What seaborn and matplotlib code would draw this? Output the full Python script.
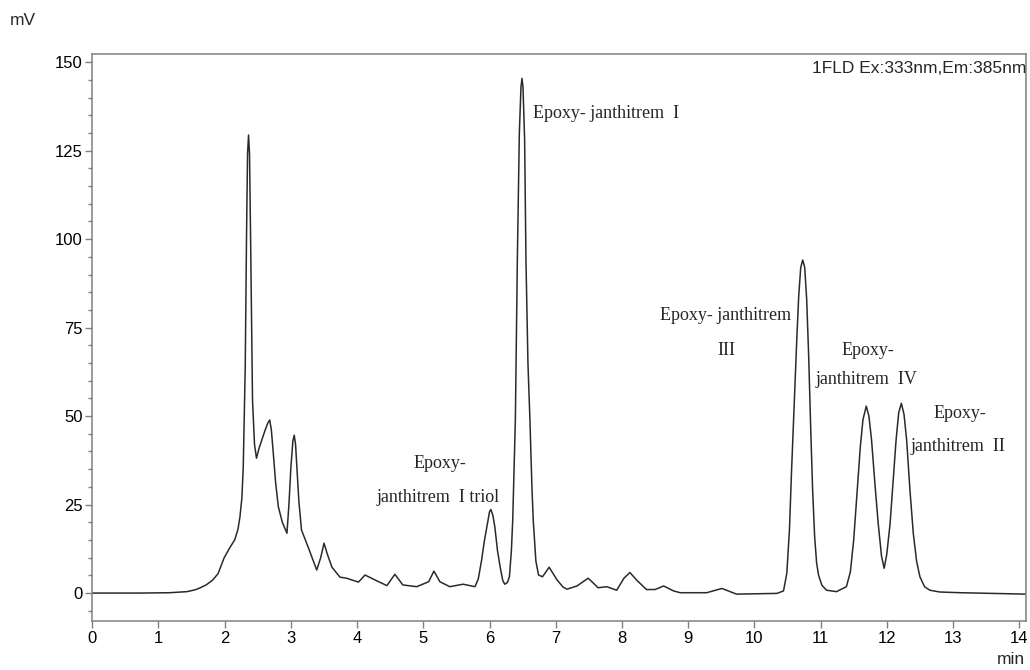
# 色谱图：Epoxy-janthitrem 各组分的荧光检测 (FLD) 谱图

import numpy as np
import pandas as pd
import seaborn as sns
from matplotlib import pyplot as plt
from matplotlib.ticker import MultipleLocator

# 保留时间 (min) 与信号 (mV)，从原图逐点读取
retention_time = [
    0.00, 0.72, 1.17, 1.43, 1.55, 1.62, 1.72, 1.82, 1.90, 1.99, 2.07, 2.15,
    2.20, 2.23, 2.26, 2.28, 2.31, 2.33, 2.345, 2.36, 2.375, 2.39, 2.42, 2.45,
    2.48, 2.52, 2.56, 2.61, 2.65, 2.68, 2.705, 2.73, 2.77, 2.81, 2.87, 2.94,
    2.97, 3.00, 3.03, 3.05, 3.07, 3.09, 3.12, 3.16, 3.26, 3.33, 3.39, 3.45,
    3.50, 3.55, 3.62, 3.74, 3.84, 4.02, 4.12, 4.27, 4.45, 4.57, 4.69, 4.90,
    5.08, 5.16, 5.25, 5.40, 5.60, 5.78, 5.83, 5.88, 5.92, 5.96, 6.00, 6.02,
    6.05, 6.08, 6.12, 6.16, 6.20, 6.23, 6.27, 6.30, 6.33, 6.35, 6.39, 6.42,
    6.45, 6.475, 6.49, 6.505, 6.53, 6.55, 6.58, 6.61, 6.64, 6.66, 6.70, 6.74,
    6.80, 6.90, 7.02, 7.11, 7.17, 7.32, 7.49, 7.64, 7.77, 7.92, 8.03, 8.12,
    8.22, 8.37, 8.50, 8.63, 8.78, 8.88, 9.28, 9.51, 9.73, 10.34, 10.44, 10.49,
    10.53, 10.56, 10.60, 10.64, 10.67, 10.70, 10.73, 10.76, 10.79, 10.82, 10.85, 10.88,
    10.91, 10.94, 10.97, 11.02, 11.09, 11.24, 11.39, 11.45, 11.50, 11.55, 11.60, 11.64,
    11.69, 11.73, 11.77, 11.82, 11.87, 11.92, 11.96, 12.00, 12.05, 12.10, 12.14, 12.18,
    12.22, 12.26, 12.30, 12.35, 12.40, 12.45, 12.50, 12.57, 12.65, 12.80, 13.11, 14.10,
]
signal_mv = [
    0.0, 0.0, 0.1, 0.4, 0.9, 1.4, 2.3, 3.7, 5.5, 9.9, 12.6, 15.0,
    18.0, 21.5, 27.0, 35.6, 63.8, 101.7, 124.0, 129.4, 124.0, 101.7, 54.5, 42.0,
    38.1, 41.0, 43.2, 46.0, 48.0, 48.9, 46.0, 40.4, 31.0, 24.4, 20.0, 16.9,
    25.0, 35.6, 43.0, 44.6, 42.0, 35.6, 26.0, 17.8, 13.0, 9.5, 6.5, 10.0,
    14.1, 11.0, 7.3, 4.5, 4.2, 3.1, 5.1, 3.7, 2.1, 5.3, 2.3, 1.8,
    3.2, 6.2, 3.2, 1.8, 2.5, 1.8, 4.0, 9.3, 14.5, 18.7, 23.0, 23.6,
    22.0, 18.7, 12.0, 7.4, 3.5, 2.5, 3.0, 4.6, 12.0, 20.6, 48.9, 94.1,
    130.0, 143.0, 145.4, 143.0, 128.0, 94.1, 65.0, 48.9, 30.0, 20.6, 9.0, 5.1,
    4.6, 7.3, 3.7, 1.7, 1.1, 2.0, 4.2, 1.5, 1.8, 0.8, 4.2, 5.8,
    3.7, 1.0, 1.0, 2.0, 0.6, 0.1, 0.1, 1.3, -0.3, -0.1, 0.6, 5.6,
    18.0, 33.8, 53.0, 71.5, 84.0, 92.0, 94.1, 92.0, 83.0, 67.0, 47.0, 29.0,
    16.0, 8.5, 5.0, 2.2, 0.8, 0.4, 1.8, 6.0, 15.0, 28.0, 41.3, 49.0,
    52.8, 50.0, 43.2, 31.0, 19.7, 10.5, 7.0, 11.0, 19.7, 33.0, 43.2, 51.0,
    53.6, 50.5, 43.2, 29.0, 16.9, 9.0, 4.6, 1.8, 0.8, 0.3, 0.1, -0.3,
]

# 峰标注：文字、位置
peak_labels = ["Epoxy- janthitrem  I",
               "Epoxy-", "janthitrem  I triol",
               "Epoxy- janthitrem", "III",
               "Epoxy-", "janthitrem  IV",
               "Epoxy-", "janthitrem  II"]
label_x = [6.66, 5.25, 5.22, 9.56, 9.57, 11.72, 11.69, 13.11, 13.08]
label_y = [135.6, 36.7, 27.1, 78.5, 68.6, 68.6, 60.2, 50.6, 41.5]

x_ticks = list(range(0, 15))
y_ticks = [0, 25, 50, 75, 100, 125, 150]

sns.set_style("ticks")
plt.rcParams["font.family"] = ["Liberation Sans", "DejaVu Sans"]

df = pd.DataFrame({"min": retention_time, "mV": signal_mv})

fig = plt.figure(figsize=(10.3, 6.7), dpi=100)
ax = fig.add_axes([0.0896, 0.0731, 0.9070, 0.8463])

sns.lineplot(data=df, x="min", y="mV", ax=ax, color="#2a2a2a",
             linewidth=1.1, estimator=None, sort=False)

ax.set_xlim(0, 14.11)
ax.set_ylim(-7.9, 152.3)
ax.set_xticks(x_ticks)
ax.set_yticks(y_ticks)
ax.yaxis.set_minor_locator(MultipleLocator(5))
ax.set_xlabel("")
ax.set_ylabel("")

grey = "#808080"
for sp in ax.spines.values():
    sp.set_color(grey)
    sp.set_linewidth(1.1)
ax.tick_params(axis="both", which="major", colors=grey, length=5, width=1.0,
               labelsize=12, labelcolor="black", pad=2)
ax.tick_params(axis="y", which="minor", colors=grey, length=3, width=1.0)

# 峰名称（Times 风格字体）
for txt, x, y in zip(peak_labels[:1], label_x[:1], label_y[:1]):
    ax.text(x, y, txt, ha="left", va="center", fontsize=13,
            family=["Liberation Serif", "DejaVu Serif"])
for txt, x, y in zip(peak_labels[1:], label_x[1:], label_y[1:]):
    ax.text(x, y, txt, ha="center", va="center", fontsize=13,
            family=["Liberation Serif", "DejaVu Serif"])

ax.text(1.0, 0.975, "1FLD Ex:333nm,Em:385nm", transform=ax.transAxes,
        ha="right", va="center", fontsize=12.5)

fig.text(0.0097, 0.970, "mV", ha="left", va="center", fontsize=12.5)
fig.text(0.995, 0.015, "min", ha="right", va="center", fontsize=12.5)

plt.savefig("out.png", dpi=100)
